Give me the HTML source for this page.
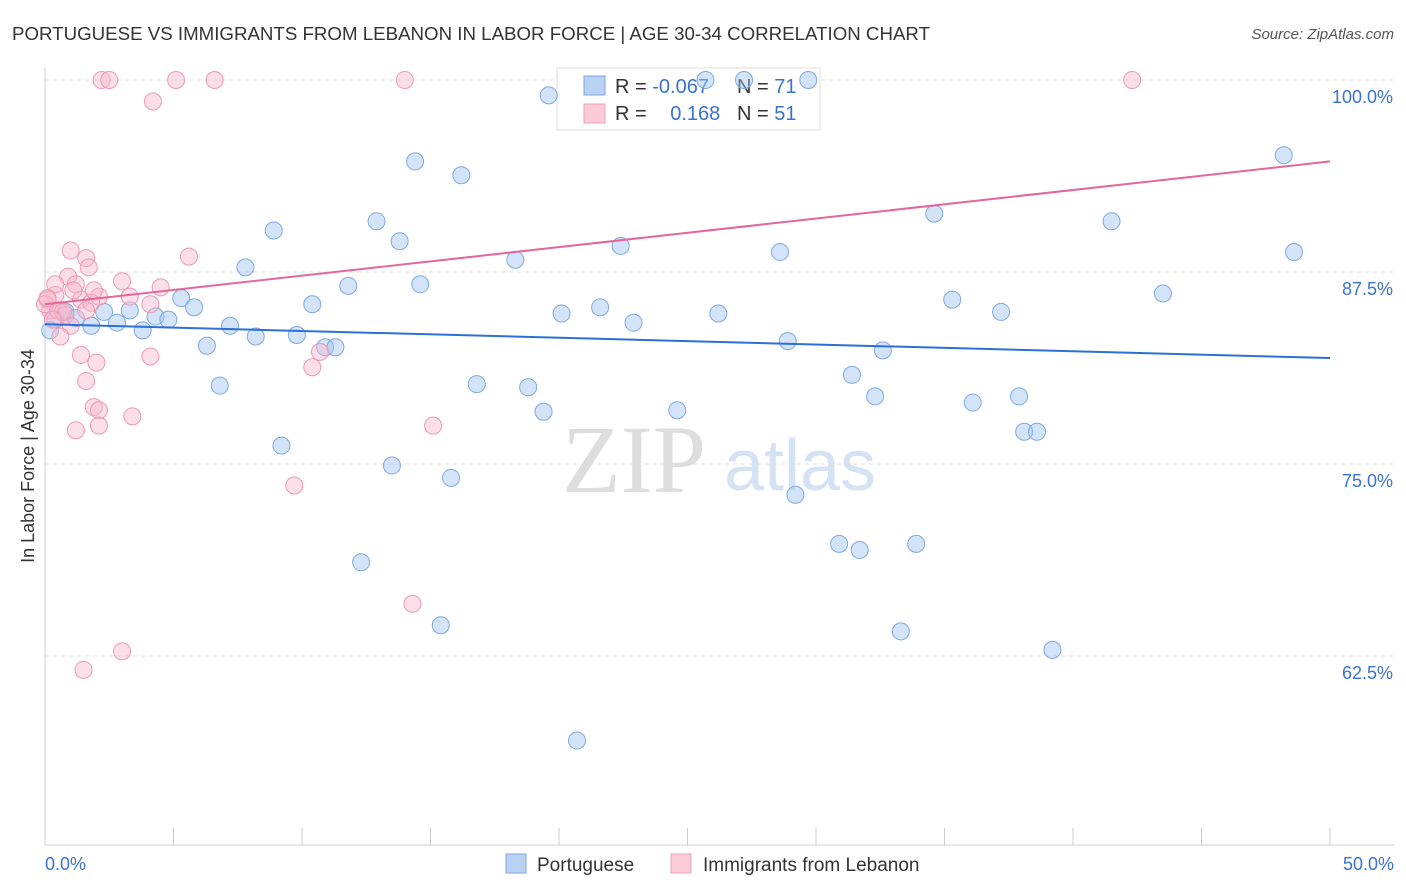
<!DOCTYPE html>
<html><head><meta charset="utf-8">
<style>
body{margin:0;background:#fff;font-family:"Liberation Sans",sans-serif}
svg{display:block}
</style></head>
<body>
<svg id="chart" width="1406" height="892" viewBox="0 0 1406 892">
<text x="12" y="40" font-size="18" fill="#333" textLength="918" lengthAdjust="spacingAndGlyphs">PORTUGUESE VS IMMIGRANTS FROM LEBANON IN LABOR FORCE | AGE 30-34 CORRELATION CHART</text>
<text x="1394" y="39" font-size="15" fill="#555" text-anchor="end" font-style="italic">Source: ZipAtlas.com</text>
<text x="634" y="492" font-size="96" fill="#ddd" font-family="Liberation Serif" text-anchor="middle">ZIP</text>
<text x="800" y="490" font-size="72" fill="#d4e2f4" text-anchor="middle">atlas</text>
<g id="grid"></g>
<g id="axes"></g>
<g>
<rect x="557" y="68" width="263" height="62" fill="#fff" stroke="#ddd"/>
<rect x="584" y="76" width="21" height="19" fill="#b9d2f3" stroke="#7aa6e0"/>
<rect x="584" y="104" width="21" height="19" fill="#fbcbd8" stroke="#eea0b8"/>
<text x="615" y="93" font-size="20" fill="#333">R = <tspan fill="#3b72d0">-0.067</tspan></text>
<text x="737" y="93" font-size="20" fill="#333">N = <tspan fill="#3b72d0">71</tspan></text>
<text x="615" y="120" font-size="20" fill="#333">R = <tspan fill="#3b72d0" dx="18">0.168</tspan></text>
<text x="737" y="120" font-size="20" fill="#333">N = <tspan fill="#3b72d0">51</tspan></text>
</g>
<g id="pts"></g>
<g id="trends"></g>
<text transform="translate(34,456) rotate(-90)" font-size="18" fill="#333" text-anchor="middle">In Labor Force | Age 30-34</text>
<g>
<rect x="506" y="854" width="20" height="19" fill="#b9d2f3" stroke="#7aa6e0"/>
<text x="537" y="871" font-size="19" fill="#333">Portuguese</text>
<rect x="671" y="854" width="20" height="19" fill="#fbcbd8" stroke="#eea0b8"/>
<text x="703" y="871" font-size="19" fill="#333">Immigrants from Lebanon</text>
</g>
</svg>
<script>
const blueX=[29.7,25.7,27.2,19.6,48.2,14.4,16.2,34.6,41.5,12.9,8.9,13.8,22.4,48.6,28.6,18.3,7.8,11.8,14.6,43.5,5.3,35.3,10.4,5.8,21.6,3.3,2.3,20.1,26.2,37.2,4.3,4.8,2.8,22.9,1.8,3.8,7.2,8.2,9.8,28.9,6.3,10.9,11.3,32.6,31.4,6.8,16.8,18.8,32.3,36.1,37.9,19.4,24.6,38.1,38.6,9.2,13.5,15.8,29.2,30.9,31.7,33.9,12.3,15.4,33.3,39.2,20.7,0.8,0.4,0.2,1.2];
const blueY=[100,100,100,99.0,95.1,94.7,93.8,91.3,90.8,90.8,90.2,89.5,89.2,88.8,88.8,88.3,87.8,86.6,86.7,86.1,85.8,85.7,85.4,85.2,85.2,85.0,84.9,84.8,84.8,84.9,84.6,84.4,84.2,84.2,84.0,83.7,84.0,83.3,83.4,83.0,82.7,82.6,82.6,82.4,80.8,80.1,80.2,80.0,79.4,79.0,79.4,78.4,78.5,77.1,77.1,76.2,74.9,74.1,73.0,69.8,69.4,69.8,68.6,64.5,64.1,62.9,57.0,84.9,84.4,83.7,84.5];
const pinkX=[2.2,2.5,5.1,6.6,14.0,42.3,4.2,1.0,5.6,1.6,1.7,0.9,3.0,1.2,4.5,0.4,3.3,2.1,1.4,1.8,4.1,0.1,0.2,0.5,0,0.8,1.6,1.0,0.6,1.4,4.1,2.0,10.4,10.7,1.6,1.9,2.1,3.4,2.1,1.2,15.1,9.7,14.3,3.0,1.5,0.1,0.4,0.7,1.1,0.3,1.9];
const pinkY=[100,100,100,100,100,100,98.6,88.9,88.5,88.4,87.8,87.2,86.9,86.7,86.5,86.0,85.9,85.9,85.7,85.5,85.4,85.7,85.0,85.0,85.4,84.7,85.0,84.0,83.3,82.1,82.0,81.6,81.3,82.3,80.4,78.7,78.5,78.1,77.5,77.2,77.5,73.6,65.9,62.8,61.6,85.8,86.7,84.9,86.3,84.4,86.3];
const blueTrend=[84.1,81.9];
const pinkTrend=[85.4,94.7];
const yTicks=[100,87.5,75,62.5];
const yTickLabels=["100.0%","87.5%","75.0%","62.5%"];
const xTicks=[0,5,10,15,20,25,30,35,40,45,50];

const NS="http://www.w3.org/2000/svg";
const X=v=>45+v*25.7;
const Y=v=>80+(100-v)*15.36;
function mk(tag,attrs,parent){const e=document.createElementNS(NS,tag);for(const k in attrs)e.setAttribute(k,attrs[k]);parent.appendChild(e);return e;}
const grid=document.getElementById('grid'),axes=document.getElementById('axes'),pts=document.getElementById('pts'),tr=document.getElementById('trends');
yTicks.forEach((t,i)=>{
  const l=mk('line',{x1:45,x2:1394,y1:Y(t),y2:Y(t),stroke:'#ddd','stroke-dasharray':'4,4'},grid);
  
  
  const tx=mk('text',{x:1393,y:Y(t)+23,'font-size':18,fill:'#3b72d0','text-anchor':'end'},axes);
  tx.textContent=yTickLabels[i];
  
  
});
const ax=mk('line',{x1:45,x2:1394,y1:845,y2:845,stroke:'#ccc'},axes);


const ay=mk('line',{x1:45,x2:45,y1:68,y2:845,stroke:'#ccc'},axes);


xTicks.forEach(t=>{
  const l=mk('line',{x1:X(t),x2:X(t),y1:828,y2:845,stroke:'#ccc'},axes);
  
  
});
const xl0=mk('text',{x:45,y:870,'font-size':18,fill:'#3b72d0'},axes);xl0.textContent='0.0%';


const xl1=mk('text',{x:1394,y:870,'font-size':18,fill:'#3b72d0','text-anchor':'end'},axes);xl1.textContent='50.0%';


blueX.forEach((v,i)=>{
  const c=mk('circle',{cx:X(v),cy:Y(blueY[i]),r:8.5,fill:'rgba(160,195,240,0.45)',stroke:'#7ea9e2','stroke-width':1},pts);
  
  
});
pinkX.forEach((v,i)=>{
  const c=mk('circle',{cx:X(v),cy:Y(pinkY[i]),r:8.5,fill:'rgba(248,185,205,0.45)',stroke:'#ec9ab4','stroke-width':1},pts);
  
  
});
const bt=mk('line',{x1:X(0),x2:X(50),y1:Y(blueTrend[0]),y2:Y(blueTrend[1]),stroke:'#2d6fd6','stroke-width':2},tr);


const pt=mk('line',{x1:X(0),x2:X(50),y1:Y(pinkTrend[0]),y2:Y(pinkTrend[1]),stroke:'#e2679a','stroke-width':2},tr);


</script>
</body></html>
